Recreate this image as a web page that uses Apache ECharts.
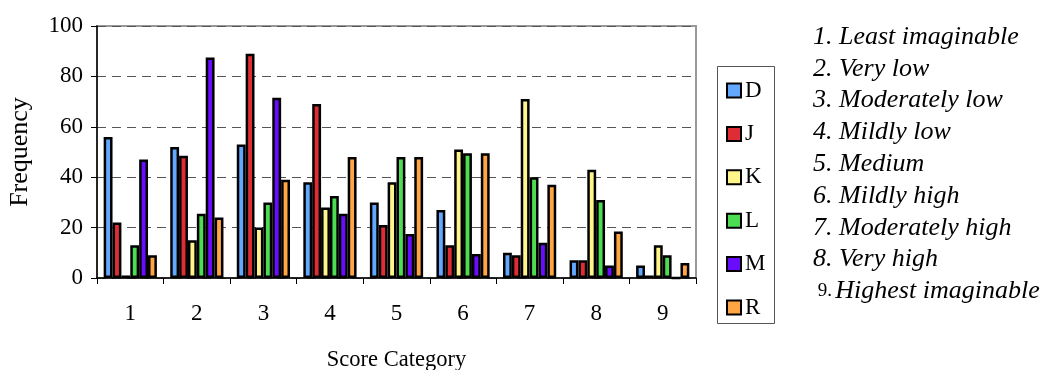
<!DOCTYPE html>
<html>
<head>
<meta charset="utf-8">
<script src="https://cdn.jsdelivr.net/npm/echarts@6/dist/echarts.min.js"></script>
<style>
  html, body { margin: 0; padding: 0; background: #fff; }
  #chart { width: 1048px; height: 370px; }
</style>
</head>
<body>
<div id="chart"></div>
<script>
// Score categories on the x axis
const categories = ['1', '2', '3', '4', '5', '6', '7', '8', '9'];

// Frequency per score category for each rater
const seriesD = [56, 52, 53, 38, 30, 27, 10, 7, 5];
const seriesJ = [22, 48.5, 89, 69, 21, 13, 9, 7, 1];
const seriesK = [1, 15, 20, 28, 38, 51, 71, 43, 13];
const seriesL = [13, 25.5, 30, 32.5, 48, 49.5, 40, 31, 9];
const seriesM = [47, 87.5, 71.5, 25.5, 17.5, 9.5, 14, 5, 0];
const seriesR = [9, 24, 39, 48, 48, 49.5, 37, 18.5, 6];

const seriesNames = ['D', 'J', 'K', 'L', 'M', 'R'];
const seriesColors = ['#62a8ff', '#e02d35', '#fff58a', '#4cdd52', '#6a0dff', '#ffa544'];

// Meaning of each score category
const scoreLabels = [
  'Least imaginable', 'Very low', 'Moderately low', 'Mildly low', 'Medium',
  'Mildly high', 'Moderately high', 'Very high', 'Highest imaginable'
];

const yTicks = [0, 20, 40, 60, 80, 100];

const FONT = '"Liberation Serif", "Times New Roman", serif';
const seriesValues = [seriesD, seriesJ, seriesK, seriesL, seriesM, seriesR];

const chart = echarts.init(document.getElementById('chart'), null, { renderer: 'canvas' });

const series = seriesNames.map((name, i) => ({
  name: name,
  type: 'bar',
  data: seriesValues[i],
  barGap: '0%',
  barCategoryGap: '20%',
  itemStyle: { color: seriesColors[i], borderColor: '#000', borderWidth: 2.5 },
  emphasis: { disabled: true },
  animation: false
}));

// Category descriptions stacked to the right of the legend
const descGraphics = scoreLabels.map((txt, i) => ({
  type: 'text',
  left: 813,
  top: 24 + i * 31.8,
  style: {
    text: i === 8 ? '{n| ' + (i + 1) + '.} {t|' + txt + '}' : '{t|' + (i + 1) + '. ' + txt + '}',
    rich: {
      n: { fontFamily: FONT, fontSize: 19, fill: '#000' },
      t: { fontFamily: FONT, fontSize: 26, fontStyle: 'italic', fill: '#000' }
    }
  }
}));

chart.setOption({
  animation: false,
  backgroundColor: '#fff',
  grid: {
    left: 97, top: 26, width: 599, height: 252,
    outerBoundsMode: 'none',
    containLabel: false,
    show: true, borderColor: '#999', borderWidth: 2, backgroundColor: 'transparent'
  },
  legend: {
    orient: 'vertical',
    left: 726,
    top: 79,
    padding: 0,
    itemWidth: 14,
    itemHeight: 14,
    itemGap: 20.4,
    icon: 'rect',
    selectedMode: false,
    textStyle: { fontFamily: FONT, fontSize: 23, color: '#000', lineHeight: 22, padding: [0, 0, 0, -1] },
    data: seriesNames
  },
  xAxis: {
    type: 'category',
    data: categories,
    name: 'Score Category',
    nameLocation: 'middle',
    nameGap: 71,
    nameTextStyle: { fontFamily: FONT, fontSize: 22.5, color: '#000' },
    axisLine: { lineStyle: { color: '#000', width: 1.5 } },
    axisTick: { show: true, alignWithLabel: false, length: 6, lineStyle: { color: '#000' } },
    axisLabel: { fontFamily: FONT, fontSize: 23, color: '#000', margin: 24 }
  },
  yAxis: {
    type: 'value',
    min: yTicks[0],
    max: yTicks[yTicks.length - 1],
    interval: 20,
    name: 'Frequency',
    nameLocation: 'middle',
    nameGap: 64,
    nameRotate: 90,
    nameTextStyle: { fontFamily: FONT, fontSize: 26, color: '#000' },
    axisLine: { show: true, lineStyle: { color: '#000', width: 1.5 } },
    axisTick: { show: true, length: 6, lineStyle: { color: '#000' } },
    axisLabel: { fontFamily: FONT, fontSize: 23, color: '#000', margin: 14 },
    splitLine: { show: true, lineStyle: { color: '#555', type: [9, 6], width: 1 } }
  },
  graphic: [
    {
      type: 'rect',
      shape: { x: 717.5, y: 66.5, width: 57, height: 257 },
      style: { fill: 'none', stroke: '#555', lineWidth: 1 },
      z: 0
    }
  ].concat(descGraphics),
  series: series
});
</script>
</body>
</html>
